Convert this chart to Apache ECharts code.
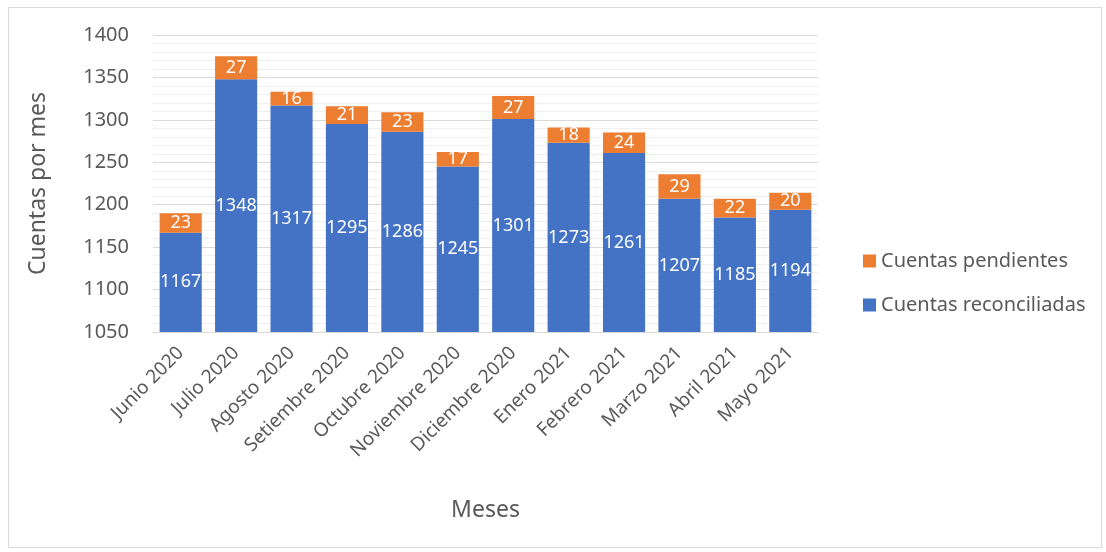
<!DOCTYPE html>
<html>
<head>
<meta charset="utf-8">
<script src="https://cdn.jsdelivr.net/npm/echarts@6/dist/echarts.min.js"></script>
<style>
    html, body { margin: 0; padding: 0; background: #fff; }
    #frame { position: absolute; left: 8px; top: 7px; width: 1094px; height: 541px; border: 1px solid #d9d9d9; box-sizing: border-box; }
    #chart { position: absolute; left: 0; top: 0; width: 1106px; height: 552px; }
</style>
</head>
<body>
<div id="frame"></div>
<div id="chart"></div>
<script>
var months = ['Junio 2020', 'Julio 2020', 'Agosto 2020', 'Setiembre 2020', 'Octubre 2020', 'Noviembre 2020',
    'Diciembre 2020', 'Enero 2021', 'Febrero 2021', 'Marzo 2021', 'Abril 2021', 'Mayo 2021'];
var reconciliadas = [1167, 1348, 1317, 1295, 1286, 1245, 1301, 1273, 1261, 1207, 1185, 1194];
var pendientes = [23, 27, 16, 21, 23, 17, 27, 18, 24, 29, 22, 20];

(function () {
    var font = '"Noto Sans", sans-serif';
    var grey = '#595959';

    var labelStyle = {
        show: true,
        position: 'inside',
        color: '#fff',
        fontSize: 18,
        fontFamily: font
    };

    var option = {
        animation: false,
        textStyle: {fontFamily: font},
        grid: {left: 153, right: 288, top: 35, bottom: 220},
        legend: {
            orient: 'vertical',
            left: 858,
            top: 246,
            itemWidth: 13,
            itemHeight: 13,
            itemGap: 24,
            icon: 'rect',
            textStyle: {color: grey, fontSize: 20, fontFamily: font},
            data: ['Cuentas pendientes', 'Cuentas reconciliadas']
        },
        xAxis: {
            type: 'category',
            data: months,
            name: 'Meses',
            nameLocation: 'middle',
            nameGap: 167,
            nameTextStyle: {color: grey, fontSize: 23, fontFamily: font},
            axisLine: {lineStyle: {color: '#d9d9d9', width: 1}},
            axisTick: {show: false},
            axisLabel: {rotate: 45, color: grey, fontSize: 19, margin: 18, interval: 0}
        },
        yAxis: {
            type: 'value',
            min: 1050,
            max: 1400,
            interval: 50,
            name: 'Cuentas por mes',
            nameLocation: 'middle',
            nameGap: 103,
            nameTextStyle: {color: grey, fontSize: 23, fontFamily: font},
            axisLine: {show: false},
            axisTick: {show: false},
            axisLabel: {color: grey, fontSize: 20, margin: 24, formatter: function (v) { return String(v); }},
            splitLine: {lineStyle: {color: '#d9d9d9', width: 1}},
            minorTick: {show: false, splitNumber: 5},
            minorSplitLine: {show: true, lineStyle: {color: '#efefef', width: 1}}
        },
        series: [
            {
                name: 'Cuentas reconciliadas',
                type: 'bar',
                stack: 'total',
                barWidth: '76%',
                itemStyle: {color: '#4472c4'},
                label: labelStyle,
                data: reconciliadas
            },
            {
                name: 'Cuentas pendientes',
                type: 'bar',
                stack: 'total',
                barWidth: '76%',
                itemStyle: {color: '#ed7d31'},
                label: labelStyle,
                data: pendientes
            }
        ]
    };

    var chart = echarts.init(document.getElementById('chart'));
    chart.setOption(option);
})();
</script>
</body>
</html>
